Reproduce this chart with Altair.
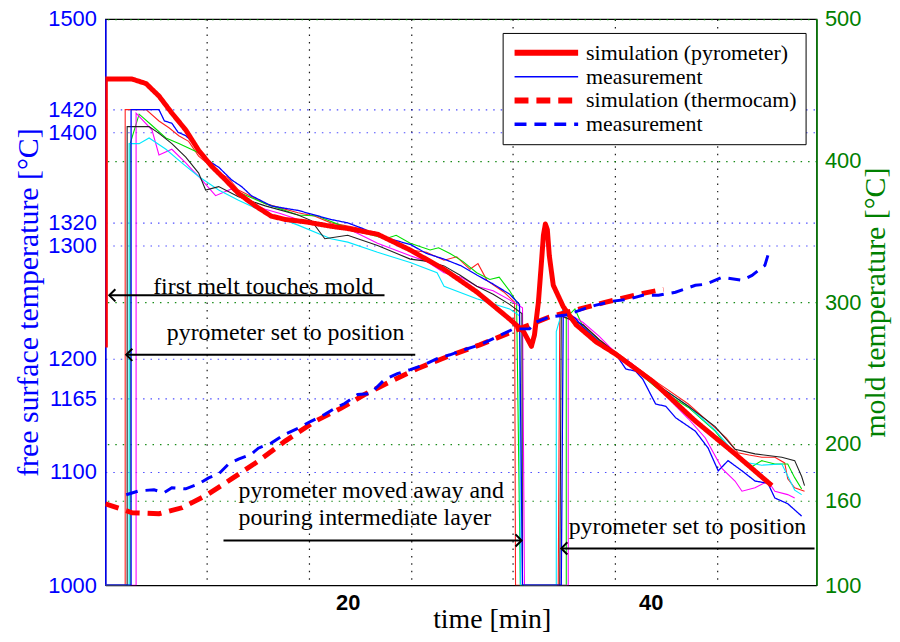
import altair as alt
import pandas as pd

# ---------------- axes ----------------
X_DOMAIN = [4.0, 50.95]
X_GRID = [10.69, 17.43, 24.17, 30.91, 37.65, 44.39]
X_LABELS = [20, 40]
YL_DOMAIN = [1000, 1500]
YL_TICKS = [1000, 1100, 1165, 1200, 1300, 1320, 1400, 1420, 1500]
YR_DOMAIN = [100, 500]
YR_TICKS = [100, 160, 200, 300, 400, 500]

# ---------------- legend series ----------------
SERIES = ["simulation (pyrometer)", "measurement", "simulation (thermocam)", "measurement "]
SERIES_COLORS = ["#ff0000", "#0000ff", "#ff0000", "#0000ff"]
SERIES_DASH = [[1, 0], [1, 0], [14, 8], [12, 8]]

# ---------------- simulation (pyrometer), left axis ----------------
SIM_PYRO_T = [4.0, 4.0, 4.2, 5.77, 6.69, 7.54, 8.39, 9.31, 10.16, 11.02, 11.93, 12.79, 13.90,
              14.95, 15.87, 17.18, 18.89, 20.0, 21.97, 24.13, 26.36, 28.52, 30.69, 31.61, 32.13,
              32.33, 32.59, 32.79, 32.92, 33.05, 33.18, 33.31, 33.57, 34.23, 35.08, 36.39, 37.7,
              40.13, 42.95, 45.57, 48.0]
SIM_PYRO_V = [1210, 1447, 1447, 1447, 1443, 1432, 1417, 1402, 1384, 1370, 1358, 1346, 1335,
              1326, 1323, 1321, 1317, 1315, 1310, 1296, 1279, 1259, 1235, 1224, 1211,
              1221, 1250, 1285, 1309, 1319, 1314, 1291, 1265, 1246, 1230, 1215, 1204,
              1180, 1145, 1116, 1088]

# ---------------- measurement (pyrometer), left axis ----------------
MEAS_BLUE_T = [4.0, 5.70, 5.70, 7.54, 7.9, 8.39, 8.8, 9.31, 9.7, 10.16, 11.02, 11.5, 12.33, 13.0,
               13.64, 14.95, 15.8, 16.72, 17.8, 18.89, 20.0, 21.0, 21.97, 23.0, 24.13, 25.2, 26.36,
               27.5, 28.52, 29.6, 30.69, 31.34, 31.54, 34.10, 34.23, 35.0, 35.54, 36.59, 37.70,
               38.36, 39.0, 39.48, 40.33, 41.0, 41.64, 42.3, 42.95, 43.80, 44.46, 45.11, 46.03,
               46.89, 47.74, 48.20, 49.05, 49.97]
MEAS_BLUE_V = [1000, 1000, 1420, 1420, 1410, 1408, 1400, 1397, 1392, 1382, 1373, 1369, 1358, 1352,
               1344, 1335, 1333, 1331, 1327, 1323, 1320, 1315, 1309, 1305, 1301, 1293, 1288,
               1282, 1274, 1266, 1257, 1248, 1000, 1000, 1242, 1236, 1228, 1215, 1204,
               1191, 1189, 1182, 1160, 1158, 1148, 1142, 1136, 1121, 1101, 1110, 1101,
               1092, 1090, 1077, 1072, 1061]

MEAS_RED_T = [4.0, 5.31, 5.31, 6.69, 7.54, 8.2, 8.85, 9.5, 10.16, 11.48, 12.1, 12.79, 14.56,
              15.6, 16.72, 17.8, 18.89, 20.85, 22.5, 24.13, 25.2, 26.36, 27.2, 28.07, 28.6, 29.2,
              30.30, 31.02, 31.08, 33.90, 34.0, 35.54, 36.59, 37.70, 38.82, 40.33, 42.49, 44.26,
              45.0, 45.77, 46.5, 47.34, 48.2, 48.85, 49.05, 49.51, 50.16]
MEAS_RED_V = [1000, 1000, 1420, 1420, 1410, 1404, 1397, 1392, 1379, 1364, 1360, 1349, 1337,
              1333, 1329, 1326, 1320, 1315, 1306, 1296, 1294, 1287, 1290, 1279, 1284, 1269,
              1259, 1250, 1000, 1000, 1238, 1230, 1217, 1206, 1195, 1180, 1160, 1139,
              1130, 1117, 1115, 1113, 1113, 1108, 1094, 1086, 1083]

MEAS_GREEN_T = [4.0, 5.64, 5.64, 6.23, 7.08, 8.00, 8.85, 10.16, 11.48, 12.79, 14.56, 16.72, 18.0,
                19.5, 20.85, 22.5, 23.2, 24.13, 25.44, 26.0, 26.75, 27.6, 28.52, 29.38, 30.0,
                30.69, 31.15, 31.4, 34.43, 34.43, 35.0, 35.54, 36.59, 37.70, 38.82, 40.33, 42.49,
                44.26, 45.1, 46.03, 46.6, 47.34, 48.20, 49.05, 49.51, 49.97]
MEAS_GREEN_V = [1000, 1000, 1390, 1416, 1406, 1395, 1390, 1382, 1362, 1347, 1337, 1327, 1326,
                1318, 1312, 1306, 1309, 1302, 1296, 1298, 1293, 1286, 1276, 1270, 1272,
                1260, 1250, 1000, 1000, 1236, 1244, 1228, 1216, 1204, 1192, 1175, 1157,
                1136, 1122, 1112, 1104, 1110, 1107, 1107, 1095, 1085]

MEAS_MAGENTA_T = [4.0, 6.03, 6.03, 7.08, 7.54, 8.39, 9.31, 9.8, 10.16, 11.28, 12.33, 13.4, 14.56,
                  15.6, 16.72, 18.89, 20.0, 21.97, 24.13, 25.2, 26.36, 27.5, 28.52, 29.6, 30.69,
                  31.54, 31.67, 34.56, 34.56, 35.54, 36.59, 37.70, 38.82, 40.79, 42.49, 43.61,
                  44.72, 45.57, 46.03, 46.89, 47.74, 48.20, 49.05, 49.51]
MEAS_MAGENTA_V = [1000, 1000, 1417, 1402, 1380, 1385, 1373, 1366, 1361, 1344, 1350, 1338, 1332,
                  1328, 1323, 1318, 1315, 1302, 1291, 1286, 1276, 1272, 1264, 1260, 1252,
                  1245, 1000, 1000, 1240, 1232, 1220, 1205, 1195, 1170, 1147, 1130,
                  1103, 1092, 1083, 1086, 1092, 1083, 1080, 1077]

MEAS_CYAN_T = [4.0, 5.57, 5.57, 6.23, 6.89, 8.00, 9.05, 10.16, 11.48, 12.79, 14.56, 16.72, 18.89,
               20.0, 21.97, 24.13, 25.90, 26.36, 28.52, 30.69, 31.34, 31.40, 33.77, 33.77, 34.2,
               35.54, 36.59, 37.70, 38.82, 40.33, 42.49, 44.26, 46.03, 47.34, 48.66, 49.51, 49.97]
MEAS_CYAN_V = [1000, 1000, 1390, 1390, 1395, 1385, 1373, 1361, 1349, 1340, 1329, 1318, 1306,
               1303, 1294, 1285, 1276, 1264, 1253, 1244, 1238, 1000, 1000, 1224, 1244,
               1228, 1216, 1204, 1193, 1178, 1158, 1137, 1109, 1106, 1107, 1084, 1080]

MEAS_BLACK_T = [4.0, 5.44, 5.44, 6.89, 7.54, 8.39, 9.31, 10.16, 10.62, 11.48, 12.79, 14.56, 16.72,
                17.6, 18.49, 20.0, 21.97, 24.13, 25.3, 26.36, 27.4, 28.52, 29.6, 30.69, 31.5,
                31.54, 34.0, 34.1, 35.54, 36.59, 37.70, 38.82, 40.33, 42.49, 44.26, 45.57, 46.89,
                48.66, 49.51, 49.97, 50.16]
MEAS_BLACK_V = [1000, 1000, 1405, 1405, 1399, 1390, 1378, 1364, 1349, 1352, 1343, 1335, 1327,
                1322, 1306, 1309, 1300, 1288, 1286, 1282, 1274, 1264, 1257, 1248, 1240,
                1000, 1000, 1238, 1230, 1217, 1205, 1194, 1178, 1158, 1140, 1120, 1116,
                1113, 1110, 1096, 1088]

TRACE_NAMES = ["red", "green", "magenta", "cyan", "black"]
TRACE_COLORS = ["#ff2020", "#00e000", "#ff00ff", "#00e8ff", "#222222"]

# ---------------- thermocam, right axis ----------------
SIM_CAM_T = [4.0, 5.77, 7.54, 9.05, 10.62, 12.33, 14.1, 15.87, 17.84, 19.54, 21.11, 22.82, 24.59,
             26.56, 28.72, 31.15, 33.31, 35.28, 37.05, 39.21, 40.85]
SIM_CAM_V = [157.5, 151.2, 150.5, 154.7, 163.2, 175.1, 187.7, 201.8, 215.8, 224.9, 234.7, 243.9,
             253.0, 261.4, 269.8, 280.4, 289.5, 295.1, 300.0, 305.6, 309.1]

MEAS_CAM_T = [5.38, 6.23, 7.21, 7.87, 8.39, 9.31, 10.16, 10.82, 11.48, 12.13, 12.79, 13.64, 14.1,
              14.95, 15.87, 16.72, 17.57, 18.49, 19.15, 19.8, 20.66, 21.51, 22.43, 23.28, 24.13,
              25.05, 25.9, 26.75, 27.67, 28.72, 29.84, 30.95, 32.0, 32.46, 33.31, 34.43, 35.54,
              36.39, 37.51, 38.56, 39.48, 40.52, 41.64, 42.95, 43.61, 44.72, 46.03, 46.69, 47.54,
              47.74]
MEAS_CAM_V = [163.9, 166.7, 167.4, 165.3, 168.8, 168.1, 171.6, 175.8, 178.6, 185.6, 189.1, 192.6,
              196.8, 200.4, 206.7, 210.9, 215.8, 220.7, 224.9, 228.4, 234.7, 235.4, 245.3, 249.5,
              252.3, 255.8, 260.0, 262.8, 266.3, 269.8, 275.4, 281.1, 281.1, 286.0, 289.5, 290.9,
              295.1, 297.9, 300.7, 302.1, 304.9, 304.9, 307.0, 311.9, 312.6, 317.5, 315.4, 318.9,
              326.0, 333.0]

# ---------------- annotations ----------------
ARROW_T1 = [4.26, 5.38, 11.80, 34.10]
ARROW_T2 = [22.43, 24.46, 31.48, 50.82]
ARROW_V = [1256, 1203.5, 1039.5, 1032.5]
HEAD_T = [4.26, 5.38, 31.48, 34.10]
HEAD_DIR = ["left", "left", "right", "left"]

TEXT_C = ["first melt touches mold", "pyrometer set to position", "pyrometer set to position"]
TEXT_C_T = [14.43, 15.9, 42.43]
TEXT_C_V = [1263, 1223, 1051]
TEXT_L = ["pyrometer moved away and", "pouring intermediate layer"]
TEXT_L_T = [12.79, 12.79]
TEXT_L_V = [1083, 1059.6]


def frame(ts, vs, **extra):
    d = {"t": ts, "v": vs, "i": list(range(len(ts)))}
    for k, val in extra.items():
        d[k] = [val] * len(ts)
    return pd.DataFrame(d)


meas_df = pd.concat([
    frame(MEAS_RED_T, MEAS_RED_V, trace="red"),
    frame(MEAS_GREEN_T, MEAS_GREEN_V, trace="green"),
    frame(MEAS_MAGENTA_T, MEAS_MAGENTA_V, trace="magenta"),
    frame(MEAS_CYAN_T, MEAS_CYAN_V, trace="cyan"),
    frame(MEAS_BLACK_T, MEAS_BLACK_V, trace="black"),
], ignore_index=True)
blue_df = frame(MEAS_BLUE_T, MEAS_BLUE_V, series=SERIES[1])
sim_pyro_df = frame(SIM_PYRO_T, SIM_PYRO_V, series=SERIES[0])
sim_cam_df = frame(SIM_CAM_T, SIM_CAM_V, series=SERIES[2])
meas_cam_df = frame(MEAS_CAM_T, MEAS_CAM_V, series=SERIES[3])
arrow_df = pd.DataFrame({"t1": ARROW_T1, "t2": ARROW_T2, "v": ARROW_V})
head_df = pd.DataFrame({"t": HEAD_T, "v": ARROW_V, "dir": HEAD_DIR})
textc_df = pd.DataFrame({"t": TEXT_C_T, "v": TEXT_C_V, "label": TEXT_C})
textl_df = pd.DataFrame({"t": TEXT_L_T, "v": TEXT_L_V, "label": TEXT_L})

SANS = "Liberation Sans"
SERIF = "Liberation Serif"
BLUE = "#0000ff"
GREEN = "#008000"

x_scale = alt.Scale(domain=X_DOMAIN, nice=False, zero=False)
yl_scale = alt.Scale(domain=YL_DOMAIN, nice=False, zero=False)
yr_scale = alt.Scale(domain=YR_DOMAIN, nice=False, zero=False)

x_axis = alt.Axis(
    values=X_GRID + X_LABELS,
    labelExpr="datum.value == 20 ? '20' : (datum.value == 40 ? '40' : '')",
    ticks=False, grid=True, gridColor="#000000", gridDash=[1.5, 6], gridWidth=1.2,
    gridOpacity={"condition": {"test": "datum.value == 20 || datum.value == 40", "value": 0}, "value": 0.9},
    domainColor="#000000", domainWidth=1.2,
    labelFont=SANS, labelFontWeight="bold", labelFontSize=22, labelColor="#000000",
    labelPadding=7, labelOverlap=False, labelFlush=False,
    title="time [min]", titleFont=SERIF, titleFontSize=28, titleFontWeight="normal",
    titleColor="#000000", titleX=389, titlePadding=-7,
)
yl_axis = alt.Axis(
    values=YL_TICKS, orient="left", format="d",
    ticks=False, grid=True, gridColor=BLUE, gridDash=[1.5, 6], gridWidth=1.2,
    gridOpacity={"condition": {"test": "datum.value == 1000 || datum.value == 1500", "value": 0}, "value": 0.7},
    domainColor=BLUE, domainWidth=1.5,
    labelFont=SANS, labelFontSize=22, labelColor=BLUE, labelPadding=9,
    labelOverlap=False, labelFlush=False,
    title="free surface temperature [°C]", titleFont=SERIF, titleFontSize=30,
    titleFontWeight="normal", titleColor=BLUE, titlePadding=4,
)
yr_axis = alt.Axis(
    values=YR_TICKS, orient="right", format="d",
    ticks=False, grid=True, gridColor=GREEN, gridDash=[1.5, 6], gridWidth=1.2,
    gridOpacity={"condition": {"test": "datum.value == 100", "value": 0}, "value": 0.9},
    domainColor=GREEN, domainWidth=1.5,
    labelFont=SANS, labelFontSize=22, labelColor=GREEN, labelPadding=8,
    labelOverlap=False, labelFlush=False,
    title="mold temperature [°C]", titleFont=SERIF, titleFontSize=30,
    titleFontWeight="normal", titleColor=GREEN, titlePadding=0,
    titleAngle=270, titleBaseline="top",
)

legend = alt.Legend(
    orient="none", legendX=400, legendY=14,
    fillColor="#ffffff", strokeColor="#000000", padding=9,
    labelFont=SERIF, labelFontSize=22, labelColor="#000000", labelLimit=400, labelOffset=29,
    symbolType="stroke", symbolSize=4096, symbolOffset=24, rowPadding=1,
    symbolStrokeWidth={"expr": "datum.value == 'measurement' ? 1.5 : (datum.value == 'measurement ' ? 3.5 : 6)"},
)

color_enc = alt.Color("series:N", scale=alt.Scale(domain=SERIES, range=SERIES_COLORS),
                      legend=legend, title=None)
dash_enc = alt.StrokeDash("series:N", scale=alt.Scale(domain=SERIES, range=SERIES_DASH),
                          legend=legend, title=None)

X = alt.X("t:Q", scale=x_scale, axis=x_axis)
YL = alt.Y("v:Q", scale=yl_scale, axis=yl_axis)
YR = alt.Y("v:Q", scale=yr_scale, axis=yr_axis)
ORD = alt.Order("i:Q")

meas_layer = alt.Chart(meas_df).mark_line(strokeWidth=1.1, clip=True).encode(
    x=X, y=YL, order=ORD,
    stroke=alt.Stroke("trace:N", scale=alt.Scale(domain=TRACE_NAMES, range=TRACE_COLORS), legend=None),
)
blue_layer = alt.Chart(blue_df).mark_line(strokeWidth=1.3, clip=True).encode(
    x=X, y=YL, order=ORD, color=color_enc, strokeDash=dash_enc)
sim_pyro_layer = alt.Chart(sim_pyro_df).mark_line(strokeWidth=5, clip=True, strokeJoin="round").encode(
    x=X, y=YL, order=ORD, color=color_enc, strokeDash=dash_enc)

arrow_layer = alt.Chart(arrow_df).mark_rule(color="#000000", strokeWidth=2).encode(
    x=alt.X("t1:Q", scale=x_scale, axis=x_axis), x2="t2:Q", y=YL)
head_layer = alt.Chart(head_df).mark_point(filled=False, color="#000000", strokeWidth=2,
                                           size=150, opacity=1).encode(
    x=X, y=YL,
    shape=alt.Shape("dir:N", scale=alt.Scale(domain=["left", "right"],
                                             range=["M1,-1L0,0L1,1", "M-1,-1L0,0L-1,1"]),
                    legend=None))
textc_layer = alt.Chart(textc_df).mark_text(font=SERIF, fontSize=24, color="#000000",
                                            align="center", baseline="middle").encode(
    x=X, y=YL, text="label:N")
textl_layer = alt.Chart(textl_df).mark_text(font=SERIF, fontSize=24, color="#000000",
                                            align="left", baseline="middle").encode(
    x=X, y=YL, text="label:N")

left = alt.layer(meas_layer, blue_layer, sim_pyro_layer, arrow_layer, head_layer,
                 textc_layer, textl_layer)

meas_cam_layer = alt.Chart(meas_cam_df).mark_line(strokeWidth=3, clip=True).encode(
    x=X, y=YR, order=ORD, color=color_enc, strokeDash=dash_enc)
sim_cam_layer = alt.Chart(sim_cam_df).mark_line(strokeWidth=5, clip=True).encode(
    x=X, y=YR, order=ORD, color=color_enc, strokeDash=dash_enc)

right = alt.layer(sim_cam_layer, meas_cam_layer)

chart = alt.layer(left, right).resolve_scale(y="independent").properties(
    width=716, height=570,
    autosize=alt.AutoSizeParams(type="none"),
    padding={"left": 98, "top": 9, "right": 76, "bottom": 47},
    background="#ffffff",
).configure_view(stroke="#000000", strokeWidth=1.2)

chart.save("out.html", embed_options={"renderer": "svg", "actions": False})
